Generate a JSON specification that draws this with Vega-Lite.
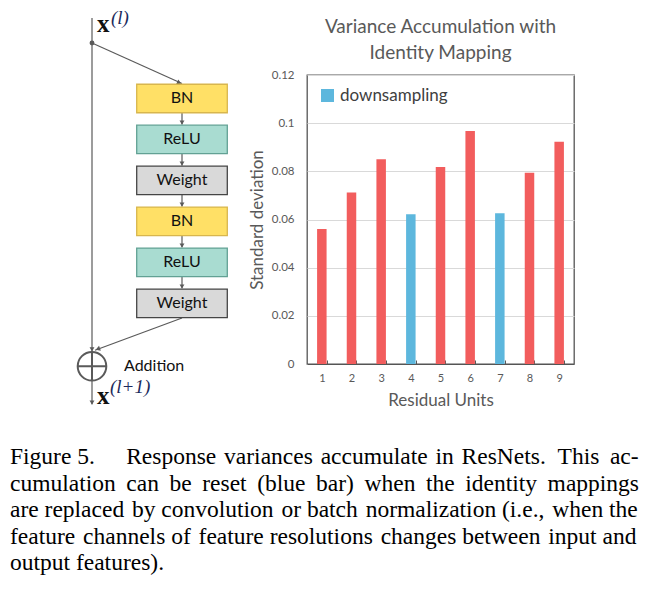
{
  "$schema": "https://vega.github.io/schema/vega-lite/v6.json",
  "background": "white",
  "padding": {"left": 10, "top": 8, "right": 0, "bottom": 0},
  "config": {"view": {"stroke": null}, "font": "Lato"},
  "datasets": {
    "bars": [
      {"unit": 1, "sd": 0.0561, "type": "regular"},
      {"unit": 2, "sd": 0.0712, "type": "regular"},
      {"unit": 3, "sd": 0.0850, "type": "regular"},
      {"unit": 4, "sd": 0.0622, "type": "downsampling"},
      {"unit": 5, "sd": 0.0818, "type": "regular"},
      {"unit": 6, "sd": 0.0967, "type": "regular"},
      {"unit": 7, "sd": 0.0626, "type": "downsampling"},
      {"unit": 8, "sd": 0.0794, "type": "regular"},
      {"unit": 9, "sd": 0.0923, "type": "regular"}
    ],
    "nodes": [
      {"stage": -1, "kind": "input", "col": "skip", "label": "x", "sup": "(l)"},
      {"stage": 0, "kind": "split", "col": "skip"},
      {"stage": 1, "kind": "layer", "col": "branch", "op": "BN"},
      {"stage": 2, "kind": "layer", "col": "branch", "op": "ReLU"},
      {"stage": 3, "kind": "layer", "col": "branch", "op": "Weight"},
      {"stage": 4, "kind": "layer", "col": "branch", "op": "BN"},
      {"stage": 5, "kind": "layer", "col": "branch", "op": "ReLU"},
      {"stage": 6, "kind": "layer", "col": "branch", "op": "Weight"},
      {"stage": 7, "kind": "sum", "col": "skip", "label": "Addition"},
      {"stage": 8, "kind": "output", "col": "skip", "label": "x", "sup": "(l+1)"}
    ],
    "edges": [
      {"from": -1, "to": 8, "from_col": "skip", "to_col": "skip", "kind": "identity"},
      {"from": 0, "to": 1, "from_col": "skip", "to_col": "branch", "kind": "into"},
      {"from": 1, "to": 2, "from_col": "branch", "to_col": "branch", "kind": "chain"},
      {"from": 2, "to": 3, "from_col": "branch", "to_col": "branch", "kind": "chain"},
      {"from": 3, "to": 4, "from_col": "branch", "to_col": "branch", "kind": "chain"},
      {"from": 4, "to": 5, "from_col": "branch", "to_col": "branch", "kind": "chain"},
      {"from": 5, "to": 6, "from_col": "branch", "to_col": "branch", "kind": "chain"},
      {"from": 6, "to": 7, "from_col": "branch", "to_col": "skip", "kind": "out"}
    ],
    "caption": [
      {"line": 1, "text": "Figure 5.\u2003 \u200aResponse \u200avariances \u200aaccumulate \u200ain \u200aResNets.\u00a0\u00a0This \u2009ac-"},
      {"line": 2, "text": "cumulation \u2009can \u2009be \u2009reset \u2009(blue \u2009bar) \u2009when \u2009the \u2009identity \u2009mappings"},
      {"line": 3, "text": "are replaced \u200aby convolution \u200aor batch \u200anormalization (i.e., \u200awhen the"},
      {"line": 4, "text": "feature \u200achannels of \u200afeature resolutions \u200achanges between \u200ainput and"},
      {"line": 5, "text": "output features)."}
    ]
  },
  "spacing": 35,
  "vconcat": [
    {
      "bounds": "flush",
      "spacing": 47,
      "resolve": {"scale": {"color": "independent"}, "legend": {"color": "independent"}},
      "hconcat": [
        {
          "width": 250,
          "height": 289,
          "encoding": {
            "x": {"field": "col", "type": "nominal", "scale": {"type": "point", "domain": ["skip", "branch"], "padding": 0.8889, "align": 0.5125}, "axis": null},
            "y": {"field": "stage", "type": "quantitative", "scale": {"domain": [0.4263, 7.482], "reverse": true, "zero": false, "nice": false}, "axis": null}
          },
          "layer": [
            {
              "data": {"name": "edges"},
              "transform": [{"filter": "datum.kind === 'identity'"}],
              "mark": {"type": "rule", "color": "#5a5a5a", "strokeWidth": 1.2, "yOffset": 1.4, "y2Offset": 19},
              "encoding": {
                "x": {"field": "from_col", "type": "nominal"},
                "y": {"field": "from", "type": "quantitative"},
                "y2": {"field": "to"}
              }
            },
            {
              "data": {"name": "edges"},
              "transform": [{"filter": "datum.kind === 'into'"}],
              "mark": {"type": "rule", "color": "#5a5a5a", "strokeWidth": 1.2, "yOffset": -14.5, "y2Offset": -15},
              "encoding": {
                "x": {"field": "from_col", "type": "nominal"},
                "x2": {"field": "to_col"},
                "y": {"field": "from", "type": "quantitative"},
                "y2": {"field": "to"}
              }
            },
            {
              "data": {"name": "edges"},
              "transform": [{"filter": "datum.kind === 'chain'"}],
              "mark": {"type": "rule", "color": "#5a5a5a", "strokeWidth": 1.2, "yOffset": 14.2, "y2Offset": -15},
              "encoding": {
                "x": {"field": "from_col", "type": "nominal"},
                "y": {"field": "from", "type": "quantitative"},
                "y2": {"field": "to"}
              }
            },
            {
              "data": {"name": "edges"},
              "transform": [{"filter": "datum.kind === 'out'"}],
              "mark": {"type": "rule", "color": "#5a5a5a", "strokeWidth": 1.2, "yOffset": 14.7, "y2Offset": 6, "x2Offset": 3},
              "encoding": {
                "x": {"field": "from_col", "type": "nominal"},
                "x2": {"field": "to_col"},
                "y": {"field": "from", "type": "quantitative"},
                "y2": {"field": "to"}
              }
            },
            {
              "data": {"name": "edges"},
              "transform": [{"filter": "datum.kind === 'into'"}],
              "mark": {"type": "point", "shape": "triangle-right", "angle": 24.5, "filled": true, "opacity": 1, "color": "#5a5a5a", "size": 28, "xOffset": -2.7, "yOffset": -15.7},
              "encoding": {
                "x": {"field": "to_col", "type": "nominal"},
                "y": {"field": "to", "type": "quantitative"}
              }
            },
            {
              "data": {"name": "edges"},
              "transform": [{"filter": "datum.kind === 'chain'"}],
              "mark": {"type": "point", "shape": "triangle-down", "filled": true, "opacity": 1, "color": "#5a5a5a", "size": 24, "yOffset": -16.8},
              "encoding": {
                "x": {"field": "to_col", "type": "nominal"},
                "y": {"field": "to", "type": "quantitative"}
              }
            },
            {
              "data": {"name": "edges"},
              "transform": [{"filter": "datum.kind === 'out'"}],
              "mark": {"type": "point", "shape": "triangle-right", "angle": 159.4, "filled": true, "opacity": 1, "color": "#5a5a5a", "size": 28, "xOffset": 5.8, "yOffset": 4.7},
              "encoding": {
                "x": {"field": "to_col", "type": "nominal"},
                "y": {"field": "to", "type": "quantitative"}
              }
            },
            {
              "data": {"name": "nodes"},
              "transform": [{"filter": "datum.kind === 'split'"}],
              "mark": {"type": "point", "shape": "circle", "filled": true, "opacity": 1, "color": "#5a5a5a", "size": 24, "yOffset": -14.5}
            },
            {
              "data": {"name": "nodes"},
              "transform": [{"filter": "datum.kind === 'sum'"}],
              "mark": {"type": "point", "shape": "circle", "filled": true, "opacity": 1, "fill": "white", "stroke": "#5a5a5a", "strokeWidth": 2, "size": 818, "yOffset": 22}
            },
            {
              "data": {"name": "nodes"},
              "transform": [{"filter": "datum.kind === 'sum'"}],
              "mark": {"type": "point", "shape": "M-1,0H1M0,-1V1", "filled": false, "opacity": 1, "stroke": "#5a5a5a", "strokeWidth": 2, "size": 818, "yOffset": 22}
            },
            {
              "data": {"name": "nodes"},
              "transform": [{"filter": "datum.kind === 'sum'"}],
              "mark": {"type": "point", "shape": "triangle-down", "filled": true, "opacity": 1, "color": "#5a5a5a", "size": 24, "yOffset": 5.2}
            },
            {
              "data": {"name": "nodes"},
              "transform": [{"filter": "datum.kind === 'output'"}],
              "mark": {"type": "point", "shape": "triangle-down", "filled": true, "opacity": 1, "color": "#5a5a5a", "size": 24, "yOffset": 17.5}
            },
            {
              "data": {"name": "nodes"},
              "transform": [{"filter": "datum.kind === 'layer'"}],
              "mark": {"type": "point", "shape": "M-1,-0.3148H1V0.3148H-1Z", "filled": true, "opacity": 1, "strokeWidth": 1.3, "size": 8208},
              "encoding": {
                "fill": {"field": "op", "type": "nominal", "scale": {"domain": ["BN", "ReLU", "Weight"], "range": ["#FFE066", "#A9DCD1", "#D9D9D9"]}, "legend": null},
                "stroke": {"field": "op", "type": "nominal", "scale": {"domain": ["BN", "ReLU", "Weight"], "range": ["#D8B64E", "#62A194", "#454545"]}, "legend": null}
              }
            },
            {
              "data": {"name": "nodes"},
              "transform": [{"filter": "datum.kind === 'layer'"}],
              "mark": {"type": "text", "fontSize": 16, "color": "#111111", "baseline": "middle", "align": "center"},
              "encoding": {"text": {"field": "op"}}
            },
            {
              "data": {"name": "nodes"},
              "transform": [{"filter": "datum.kind === 'sum'"}],
              "mark": {"type": "text", "fontSize": 16, "color": "#111111", "baseline": "middle", "align": "left", "dx": 32, "yOffset": 22},
              "encoding": {"text": {"field": "label"}}
            },
            {
              "data": {"name": "nodes"},
              "transform": [{"filter": "datum.kind === 'input'"}],
              "mark": {"type": "text", "font": "Liberation Serif", "fontWeight": "bold", "fontSize": 25, "color": "#111111", "baseline": "alphabetic", "align": "left", "dx": 5, "yOffset": 15},
              "encoding": {"text": {"field": "label"}}
            },
            {
              "data": {"name": "nodes"},
              "transform": [{"filter": "datum.kind === 'input'"}],
              "mark": {"type": "text", "font": "Liberation Serif", "fontStyle": "italic", "fontSize": 19, "color": "#1c2a5c", "baseline": "alphabetic", "align": "left", "dx": 19, "yOffset": 7},
              "encoding": {"text": {"field": "sup"}}
            },
            {
              "data": {"name": "nodes"},
              "transform": [{"filter": "datum.kind === 'output'"}],
              "mark": {"type": "text", "font": "Liberation Serif", "fontWeight": "bold", "fontSize": 25, "color": "#111111", "baseline": "alphabetic", "align": "left", "dx": 5, "yOffset": 19},
              "encoding": {"text": {"field": "label"}}
            },
            {
              "data": {"name": "nodes"},
              "transform": [{"filter": "datum.kind === 'output'"}],
              "mark": {"type": "text", "font": "Liberation Serif", "fontStyle": "italic", "fontSize": 19, "color": "#1c2a5c", "baseline": "alphabetic", "align": "left", "dx": 18, "yOffset": 8},
              "encoding": {"text": {"field": "sup"}}
            }
          ]
        },
        {
          "width": 267,
          "height": 289,
          "view": {"stroke": "#555555", "strokeWidth": 1.3},
          "title": {"text": ["Variance Accumulation with", "Identity Mapping"], "fontSize": 19, "fontWeight": "normal", "color": "#595959", "lineHeight": 26, "offset": 6, "anchor": "middle"},
          "data": {"name": "bars"},
          "mark": {"type": "bar"},
          "encoding": {
            "x": {
              "field": "unit", "type": "ordinal",
              "scale": {"paddingInner": 0.68, "paddingOuter": 0.34},
              "axis": {"title": "Residual Units", "labelAngle": 0, "tickBand": "extent", "tickSize": -4, "tickColor": "#595959", "domainColor": "#555555", "labelFontSize": 11, "labelColor": "#595959", "labelPadding": 12, "titleFontSize": 17, "titleFontWeight": "normal", "titleColor": "#595959", "titlePadding": 9}
            },
            "y": {
              "field": "sd", "type": "quantitative",
              "scale": {"domain": [0, 0.12], "nice": false},
              "axis": {"title": "Standard deviation", "values": [0, 0.02, 0.04, 0.06, 0.08, 0.1, 0.12], "labelExpr": "format(datum.value, '.2~f')", "domain": false, "ticks": false, "gridColor": "#d9d9d9", "labelFontSize": 11.5, "labelColor": "#595959", "labelPadding": 13, "titleFontSize": 17, "titleFontWeight": "normal", "titleColor": "#595959", "titlePadding": 5}
            },
            "color": {
              "field": "type", "type": "nominal",
              "scale": {"domain": ["regular", "downsampling"], "range": ["#F25D5D", "#5DB7DD"]},
              "legend": {"values": ["downsampling"], "orient": "top-left", "title": null, "symbolType": "square", "symbolSize": 169, "labelFontSize": 17, "labelColor": "#404040", "offset": 12, "padding": 0, "symbolStrokeWidth": 0, "symbolOpacity": 1}
            }
          }
        }
      ]
    },
    {
      "width": 630,
      "height": 106,
      "data": {"name": "caption"},
      "mark": {"type": "text", "align": "left", "baseline": "alphabetic", "font": "Liberation Serif", "fontSize": 23.5, "color": "#000000"},
      "encoding": {
        "x": {"value": 0},
        "y": {"field": "line", "type": "ordinal", "scale": {"type": "point", "padding": 0}, "axis": null},
        "text": {"field": "text"}
      }
    }
  ]
}
